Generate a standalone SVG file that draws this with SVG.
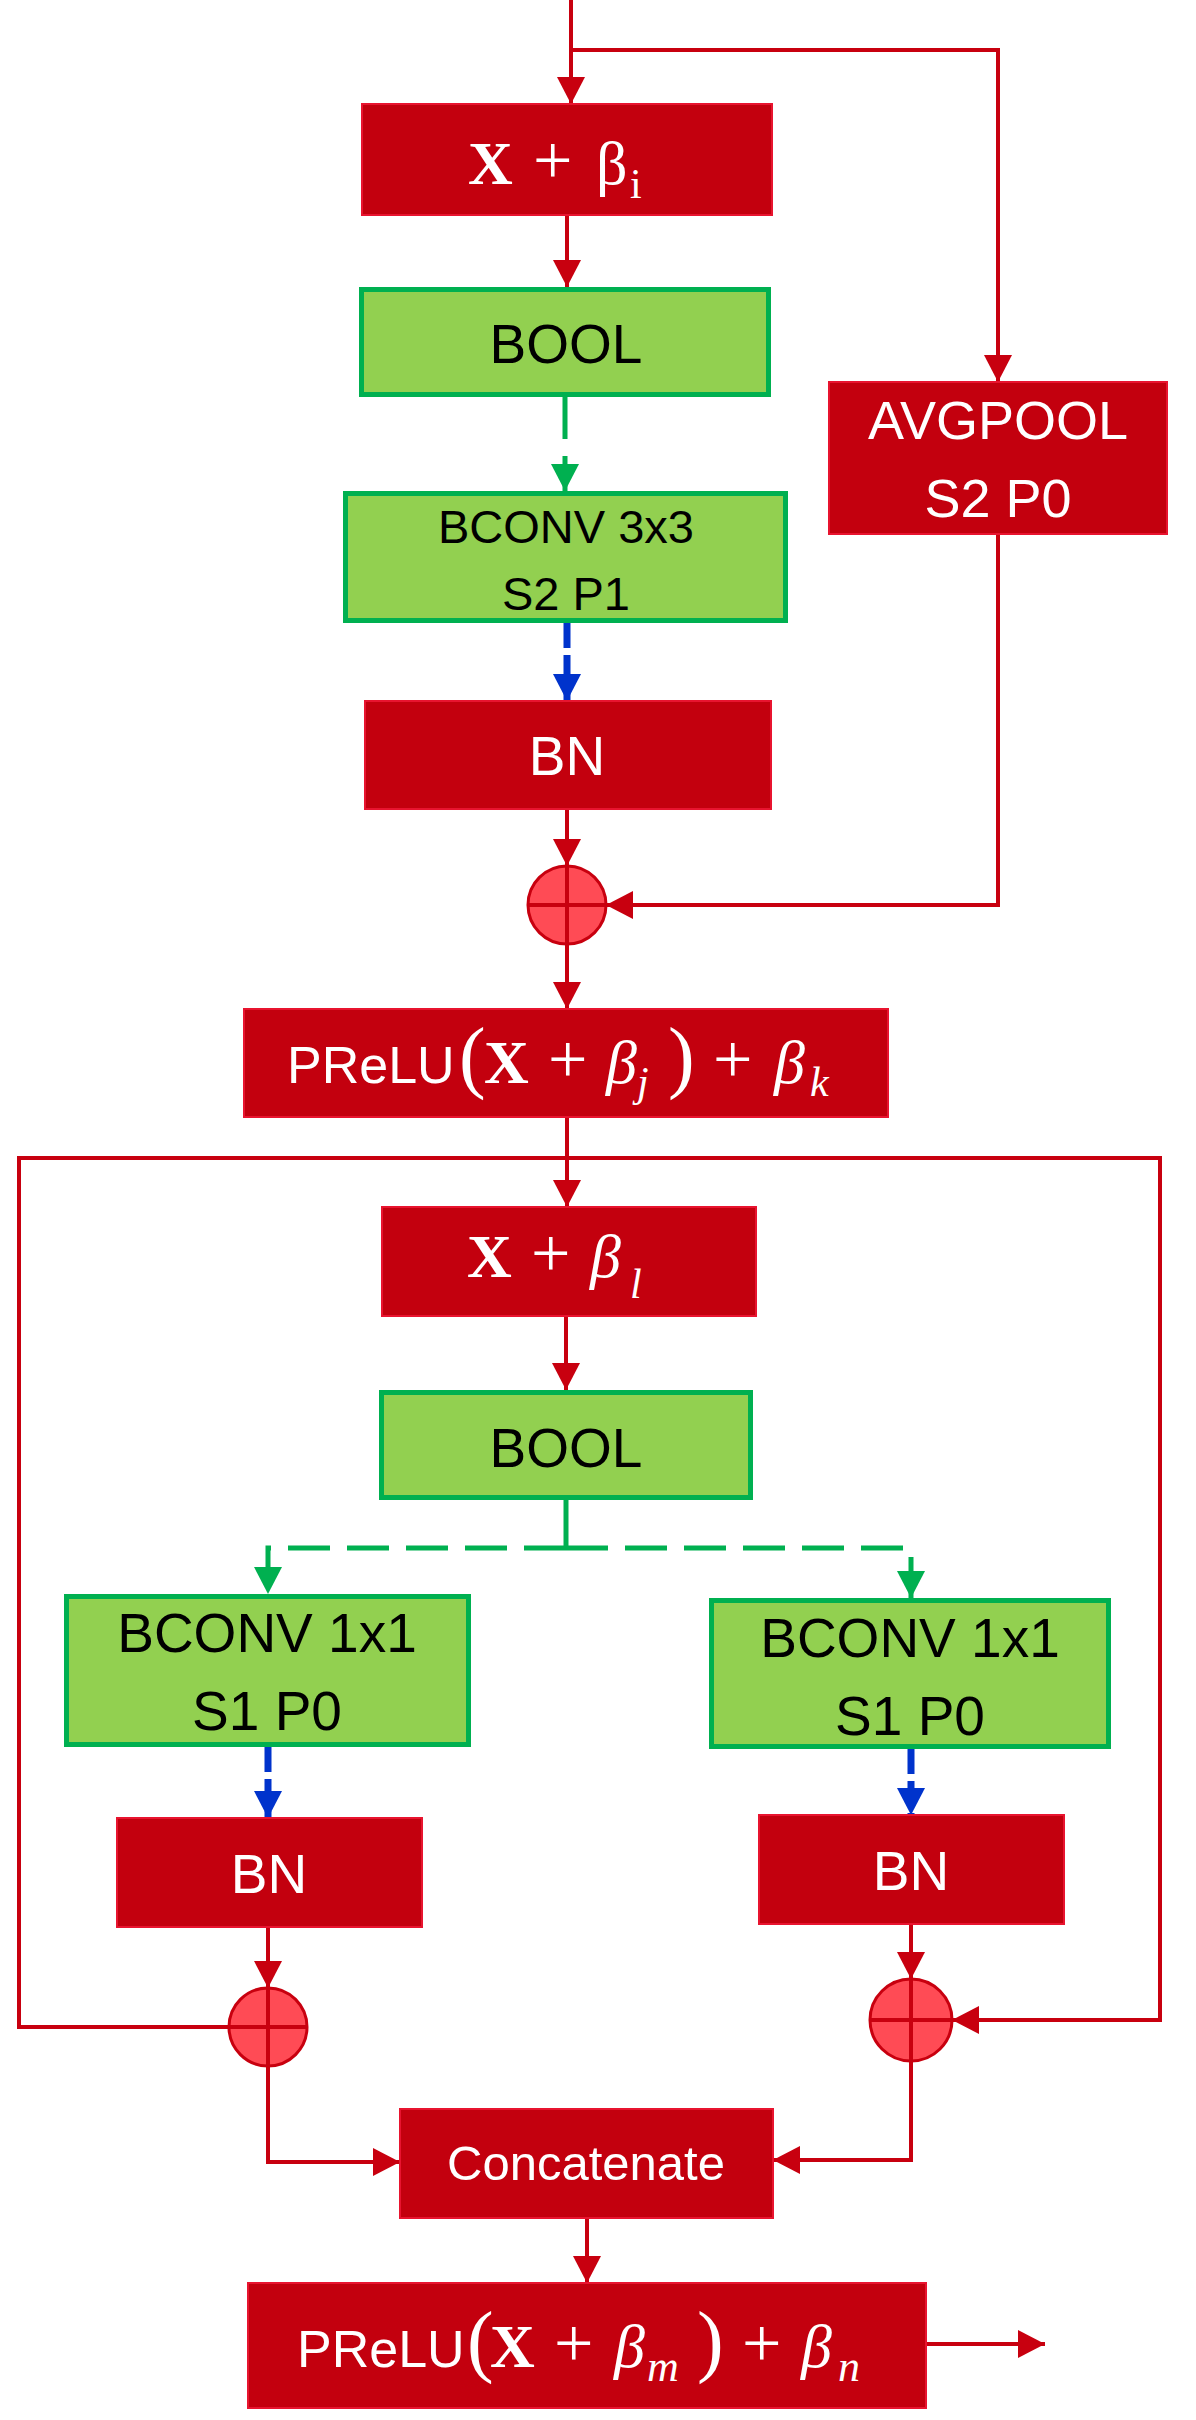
<svg xmlns="http://www.w3.org/2000/svg" width="1196" height="2420" viewBox="0 0 1196 2420">
<style>
.rbox{fill:#C3000E;stroke:#E8142F;stroke-width:2}
.gbox{fill:#92D050;stroke:#00B050;stroke-width:5}
.lbl{font-family:"Liberation Sans",Arial,sans-serif;text-anchor:middle}
.w{fill:#FFFFFF}
.k{fill:#000000}
.m{font-family:"Liberation Serif","Times New Roman",serif;fill:#FFFFFF}
.ms{font-family:"Liberation Sans",Arial,sans-serif;fill:#FFFFFF}
.xb{font-weight:bold}
.it{font-style:italic}
.pl{font-size:70px;font-weight:300}
.pa{font-size:80px}
.red{stroke:#C8000F;stroke-width:4;fill:none}
.grn{stroke:#00B050;stroke-width:5;fill:none}
.gd{stroke-dasharray:42 17}
.blu{stroke:#0033CC;stroke-width:7;fill:none;stroke-dasharray:25 7}
.sum circle{fill:#FF4B55;stroke:#C8000F;stroke-width:3}
.sum line{stroke:#C8000F;stroke-width:4}
</style>
<defs>
<marker id="ar" markerUnits="userSpaceOnUse" viewBox="0 0 27 28" markerWidth="27" markerHeight="28" refX="27" refY="14" orient="auto"><path d="M0,0 L27,14 L0,28 Z" fill="#C8000F"/></marker>
<marker id="ag" markerUnits="userSpaceOnUse" viewBox="0 0 27 28" markerWidth="27" markerHeight="28" refX="27" refY="14" orient="auto"><path d="M0,0 L27,14 L0,28 Z" fill="#00B050"/></marker>
<marker id="ab" markerUnits="userSpaceOnUse" viewBox="0 0 27 28" markerWidth="27" markerHeight="28" refX="27" refY="14" orient="auto"><path d="M0,0 L27,14 L0,28 Z" fill="#0033CC"/></marker>
</defs>

<g id="connectors">
<path class="red" d="M571,0 V104" marker-end="url(#ar)"/>
<path class="red" d="M571,50 H998 V382" marker-end="url(#ar)"/>
<path class="red" d="M567,215 V287" marker-end="url(#ar)"/>
<path class="grn gd" d="M565,397 V491" marker-end="url(#ag)"/>
<path class="blu" d="M567,623 V701" marker-end="url(#ab)"/>
<path class="red" d="M567,809 V866" marker-end="url(#ar)"/>
<path class="red" d="M998,534 V905 H606" marker-end="url(#ar)"/>
<path class="red" d="M567,944 V1009" marker-end="url(#ar)"/>
<path class="red" d="M567,1117 V1207" marker-end="url(#ar)"/>
<path class="red" d="M230,2027 H19 V1158 H1160 V2020 H952" marker-end="url(#ar)"/>
<path class="red" d="M566,1316 V1390" marker-end="url(#ar)"/>
<path class="grn" d="M566,1500 V1548"/>
<path class="grn gd" d="M566,1548 H268 V1594" marker-end="url(#ag)"/>
<path class="grn gd" d="M566,1548 H911 V1598" marker-end="url(#ag)"/>
<path class="blu" d="M268,1747 V1818" marker-end="url(#ab)"/>
<path class="blu" d="M911,1749 V1815" marker-end="url(#ab)"/>
<path class="red" d="M268,1927 V1988" marker-end="url(#ar)"/>
<path class="red" d="M911,1924 V1979" marker-end="url(#ar)"/>
<path class="red" d="M268,2066 V2162 H400" marker-end="url(#ar)"/>
<path class="red" d="M911,2061 V2160 H773" marker-end="url(#ar)"/>
<path class="red" d="M587,2218 V2283" marker-end="url(#ar)"/>
<path class="red" d="M926,2344 H1045" marker-end="url(#ar)"/>
</g>

<g id="xbi">
<rect class="rbox" x="362" y="104" width="410" height="111"/>
<text class="m" y="184" font-size="62"><tspan class="xb" x="468">X</tspan><tspan class="pl" x="533">+</tspan><tspan x="596">β</tspan><tspan x="630" y="198" font-size="42">i</tspan></text>
</g>

<g id="bool1">
<rect class="gbox" x="361.5" y="289.5" width="407" height="105"/>
<text class="lbl k" x="566" y="363" font-size="55">BOOL</text>
</g>

<g id="avgpool">
<rect class="rbox" x="829" y="382" width="338" height="152"/>
<text class="lbl w" x="998" y="439" font-size="54">AVGPOOL</text>
<text class="lbl w" x="998" y="517" font-size="54">S2 P0</text>
</g>

<g id="bconv3">
<rect class="gbox" x="345.5" y="493.5" width="440" height="127"/>
<text class="lbl k" x="566" y="543" font-size="47">BCONV 3x3</text>
<text class="lbl k" x="566" y="610" font-size="47">S2 P1</text>
</g>

<g id="bn1">
<rect class="rbox" x="365" y="701" width="406" height="108"/>
<text class="lbl w" x="567" y="775" font-size="55">BN</text>
</g>

<g id="sum1" class="sum">
<circle cx="567" cy="905" r="39"/>
<line x1="567" y1="866" x2="567" y2="944"/>
<line x1="528" y1="905" x2="606" y2="905"/>
</g>

<g id="prelu1">
<rect class="rbox" x="244" y="1009" width="644" height="108"/>
<text class="m" y="1083" font-size="62"><tspan class="ms" x="287" font-size="52">PReLU</tspan><tspan class="pa" x="459">(</tspan><tspan class="xb" x="484">X</tspan><tspan class="pl" x="548">+</tspan><tspan class="it" x="606">β</tspan><tspan class="it" x="637" y="1096" font-size="42">j</tspan><tspan class="pa" x="668" y="1083">)</tspan><tspan class="pl" x="713">+</tspan><tspan class="it" x="774">β</tspan><tspan class="it" x="810" y="1096" font-size="42">k</tspan></text>
</g>

<g id="xbl">
<rect class="rbox" x="382" y="1207" width="374" height="109"/>
<text class="m" y="1277" font-size="62"><tspan class="xb" x="467">X</tspan><tspan class="pl" x="531">+</tspan><tspan class="it" x="590">β</tspan><tspan class="it" x="630" y="1298" font-size="42">l</tspan></text>
</g>

<g id="bool2">
<rect class="gbox" x="381.5" y="1392.5" width="369" height="105"/>
<text class="lbl k" x="566" y="1467" font-size="55">BOOL</text>
</g>

<g id="bconvL">
<rect class="gbox" x="66.5" y="1596.5" width="402" height="148"/>
<text class="lbl k" x="267" y="1652" font-size="55">BCONV 1x1</text>
<text class="lbl k" x="267" y="1730" font-size="55">S1 P0</text>
</g>

<g id="bconvR">
<rect class="gbox" x="711.5" y="1600.5" width="397" height="146"/>
<text class="lbl k" x="910" y="1657" font-size="55">BCONV 1x1</text>
<text class="lbl k" x="910" y="1735" font-size="55">S1 P0</text>
</g>

<g id="bnL">
<rect class="rbox" x="117" y="1818" width="305" height="109"/>
<text class="lbl w" x="269" y="1893" font-size="55">BN</text>
</g>

<g id="bnR">
<rect class="rbox" x="759" y="1815" width="305" height="109"/>
<text class="lbl w" x="911" y="1890" font-size="55">BN</text>
</g>

<g id="sumL" class="sum">
<circle cx="268" cy="2027" r="39"/>
<line x1="268" y1="1988" x2="268" y2="2066"/>
<line x1="229" y1="2027" x2="307" y2="2027"/>
</g>

<g id="sumR" class="sum">
<circle cx="911" cy="2020" r="41"/>
<line x1="911" y1="1979" x2="911" y2="2061"/>
<line x1="870" y1="2020" x2="952" y2="2020"/>
</g>

<g id="concat">
<rect class="rbox" x="400" y="2109" width="373" height="109"/>
<text class="lbl w" x="586" y="2180" font-size="49">Concatenate</text>
</g>

<g id="prelu2">
<rect class="rbox" x="248" y="2283" width="678" height="125"/>
<text class="m" y="2367" font-size="62"><tspan class="ms" x="297" font-size="52">PReLU</tspan><tspan class="pa" x="467">(</tspan><tspan class="xb" x="490">X</tspan><tspan class="pl" x="554">+</tspan><tspan class="it" x="614">β</tspan><tspan class="it" x="647" y="2381" font-size="44">m</tspan><tspan class="pa" x="697" y="2367">)</tspan><tspan class="pl" x="742">+</tspan><tspan class="it" x="801">β</tspan><tspan class="it" x="838" y="2381" font-size="44">n</tspan></text>
</g>
</svg>
